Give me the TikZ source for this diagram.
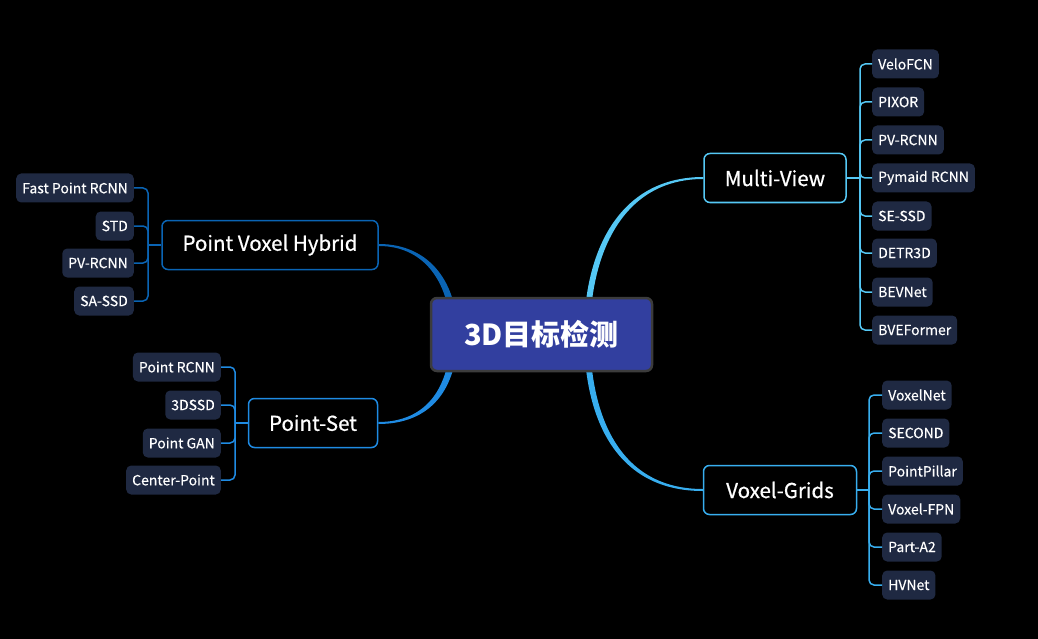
\documentclass[tikz,border=0pt]{standalone}
\usepackage{fontspec}
\setmainfont{Noto Sans CJK SC}
\newfontfamily\branchfont[FakeBold=0.7]{Noto Sans CJK SC}
\newfontfamily\leaffont[FakeBold=0.3]{Noto Sans CJK SC}
\definecolor{cfill}{HTML}{323F9F}
\definecolor{cborder}{HTML}{3C3C3C}
\definecolor{mvc}{HTML}{55C8F5}
\definecolor{vgc}{HTML}{38AEEF}
\definecolor{pvh}{HTML}{0A64B4}
\definecolor{psc}{HTML}{1F8BE3}
\definecolor{leaffill}{HTML}{1F2942}
\begin{document}
\begin{tikzpicture}[x=1pt,y=-1pt,
  branch/.style={draw, line width=1.5pt, rounded corners=6pt, fill=black, text=white,
    font=\branchfont\fontsize{20.5}{20.5}\selectfont, minimum height=49pt, inner sep=0pt},
  leaf/.style={fill=leaffill, rounded corners=5pt, text=white,
    font=\leaffont\fontsize{14}{14}\selectfont, minimum height=29pt, inner xsep=6pt, inner ysep=0pt},
  bracket/.style={line width=1.5pt, rounded corners=5pt}]
\fill[black] (0,0) rectangle (1038,639);
\useasboundingbox (0,0) rectangle (1038,639);

% branch nodes
\node[branch, draw=mvc, minimum width=142pt] (mv) at (775,178) {Multi-View};
\node[branch, draw=vgc, minimum width=153pt] (vg) at (780,490) {Voxel-Grids};
\node[branch, draw=pvh, minimum width=216pt] (ph) at (270,245) {Point Voxel Hybrid};
\node[branch, draw=psc, minimum width=129pt] (ps) at (313,423) {Point-Set};

% centre anchors of curves
\coordinate (rc) at (587,334);
\coordinate (lc) at (454,334);

% curves
\fill[mvc] ([xshift=-3pt]rc) .. controls +(0,-80) and +(-86,0) .. ([yshift=1pt]mv.west)
  -- ([yshift=-1pt]mv.west) .. controls +(-82,0) and +(0,-78) .. ([xshift=3pt]rc) -- cycle;
\fill[vgc] ([xshift=-3pt]rc) .. controls +(0,86) and +(-86,0) .. ([yshift=-1pt]vg.west)
  -- ([yshift=1pt]vg.west) .. controls +(-82,0) and +(0,84) .. ([xshift=3pt]rc) -- cycle;
\fill[pvh] ([xshift=3.5pt]lc) .. controls +(0,-50) and +(52,0) .. ([yshift=1pt]ph.east)
  -- ([yshift=-1pt]ph.east) .. controls +(48,0) and +(0,-48) .. ([xshift=-3.5pt]lc) -- cycle;
\fill[psc] ([xshift=3.5pt]lc) .. controls +(0,56) and +(52,0) .. ([yshift=-1pt]ps.east)
  -- ([yshift=1pt]ps.east) .. controls +(48,0) and +(0,54) .. ([xshift=-3.5pt]lc) -- cycle;

% centre node
\node[fill=cfill, draw=cborder, line width=2.5pt, rounded corners=6pt, text=white,
  minimum width=221pt, minimum height=73pt, inner sep=0pt,
  font=\fontsize{29}{29}\selectfont\bfseries] (root) at (541.5,334.5) {3D目标检测};

% Multi-View leaves
\node[leaf, anchor=west] (mv1) at (872,64) {VeloFCN};
\node[leaf, anchor=west] (mv2) at (872,102) {PIXOR};
\node[leaf, anchor=west] (mv3) at (872,140) {PV-RCNN};
\node[leaf, anchor=west] (mv4) at (872,178) {Pymaid RCNN};
\node[leaf, anchor=west] (mv5) at (872,216) {SE-SSD};
\node[leaf, anchor=west] (mv6) at (872,253) {DETR3D};
\node[leaf, anchor=west] (mv7) at (872,292) {BEVNet};
\node[leaf, anchor=west] (mv8) at (872,330) {BVEFormer};
\coordinate (mvt) at (860,178);
\draw[bracket, mvc] (mv.east) -- (mvt);
\foreach \i in {1,...,8} \draw[bracket, mvc] (mvt) |- (mv\i.west);

% Voxel-Grids leaves
\node[leaf, anchor=west] (vg1) at (882,395) {VoxelNet};
\node[leaf, anchor=west] (vg2) at (882,433) {SECOND};
\node[leaf, anchor=west] (vg3) at (882,471) {PointPillar};
\node[leaf, anchor=west] (vg4) at (882,509) {Voxel-FPN};
\node[leaf, anchor=west] (vg5) at (882,547) {Part-A2};
\node[leaf, anchor=west] (vg6) at (882,585) {HVNet};
\coordinate (vgt) at (869,490);
\draw[bracket, vgc] (vg.east) -- (vgt);
\foreach \i in {1,...,6} \draw[bracket, vgc] (vgt) |- (vg\i.west);

% Point Voxel Hybrid leaves
\node[leaf, anchor=east] (ph1) at (134,188) {Fast Point RCNN};
\node[leaf, anchor=east] (ph2) at (134,226) {STD};
\node[leaf, anchor=east] (ph3) at (134,263) {PV-RCNN};
\node[leaf, anchor=east] (ph4) at (134,301) {SA-SSD};
\coordinate (pht) at (148,245);
\draw[bracket, pvh] (ph.west) -- (pht);
\foreach \i in {1,...,4} \draw[bracket, pvh] (pht) |- (ph\i.east);

% Point-Set leaves
\node[leaf, anchor=east] (ps1) at (221,367) {Point RCNN};
\node[leaf, anchor=east] (ps2) at (221,405) {3DSSD};
\node[leaf, anchor=east] (ps3) at (221,443) {Point GAN};
\node[leaf, anchor=east] (ps4) at (221,480) {Center-Point};
\coordinate (pst) at (235,423);
\draw[bracket, psc] (ps.west) -- (pst);
\foreach \i in {1,...,4} \draw[bracket, psc] (pst) |- (ps\i.east);
\end{tikzpicture}
\end{document}
